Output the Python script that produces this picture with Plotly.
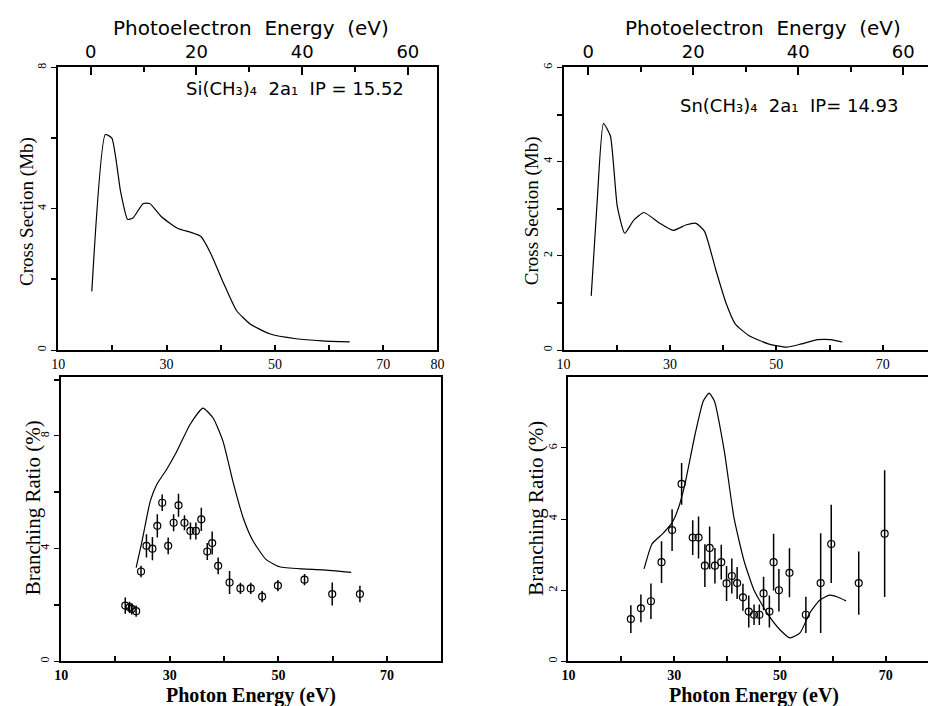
import plotly.graph_objects as go

# ---------------- data ----------------
# Si(CH3)4 cross section (photon energy eV, Mb)
si_cs_E = [16.2, 18.7, 19.9, 21.5, 22.8, 23.8, 25.7, 26.9, 29.0, 32.0, 34.5, 36.3, 38.1, 40.5, 42.9, 45.4, 49.0, 53.9, 58.7, 63.8]
si_cs_V = [1.66, 6.10, 6.00, 4.50, 3.70, 3.74, 4.15, 4.15, 3.78, 3.45, 3.33, 3.22, 2.75, 1.90, 1.12, 0.74, 0.46, 0.32, 0.26, 0.23]

# Si(CH3)4 branching ratio theory curve
si_br_E = [23.8, 24.9, 26.4, 27.6, 29.4, 31.3, 33.7, 36.1, 38.0, 39.8, 41.6, 43.5, 45.3, 47.7, 50.2, 54.4, 58.1, 63.4]
si_br_V = [3.33, 4.28, 5.69, 6.28, 6.81, 7.46, 8.40, 8.99, 8.63, 7.81, 6.40, 5.10, 4.28, 3.62, 3.36, 3.28, 3.25, 3.16]

# Si(CH3)4 branching ratio measurements
si_pt_E = [21.8, 22.6, 23.0, 23.8, 24.7, 25.7, 26.8, 27.7, 28.6, 29.7, 30.7, 31.6, 32.7, 33.8, 34.8, 35.8, 36.9, 37.8, 38.9, 41.0, 43.0, 44.9, 47.0, 49.9, 54.8, 59.9, 65.0]
si_pt_V = [1.98, 1.92, 1.86, 1.78, 3.19, 4.10, 4.00, 4.81, 5.63, 4.10, 4.92, 5.54, 4.92, 4.63, 4.63, 5.04, 3.90, 4.20, 3.39, 2.80, 2.59, 2.59, 2.30, 2.69, 2.90, 2.39, 2.39]
si_pt_err = [0.29, 0.20, 0.20, 0.20, 0.20, 0.41, 0.41, 0.41, 0.29, 0.30, 0.30, 0.41, 0.27, 0.30, 0.30, 0.41, 0.30, 0.41, 0.30, 0.41, 0.20, 0.20, 0.20, 0.20, 0.20, 0.41, 0.29]

# Sn(CH3)4 cross section
sn_cs_E = [15.2, 16.3, 17.5, 18.8, 20.1, 21.5, 23.2, 25.1, 28.1, 30.6, 33.1, 34.9, 36.5, 38.6, 40.5, 42.3, 44.8, 48.5, 51.9, 54.7, 57.8, 60.2, 62.4]
sn_cs_V = [1.15, 3.12, 4.81, 4.55, 3.05, 2.48, 2.76, 2.92, 2.69, 2.54, 2.66, 2.69, 2.52, 1.71, 1.01, 0.55, 0.31, 0.13, 0.06, 0.13, 0.22, 0.22, 0.17]

# Sn(CH3)4 branching ratio theory curve
sn_br_E = [24.3, 25.8, 27.7, 29.6, 30.8, 32.0, 33.9, 35.5, 36.6, 37.6, 39.5, 41.3, 43.2, 45.1, 47.6, 50.0, 51.9, 53.8, 55.6, 57.5, 59.4, 60.9, 62.5]
sn_br_V = [2.60, 3.30, 3.57, 3.90, 4.31, 4.96, 6.35, 7.32, 7.54, 7.32, 5.89, 4.04, 2.83, 2.00, 1.35, 0.89, 0.66, 0.80, 1.35, 1.72, 1.86, 1.81, 1.70]

# Sn(CH3)4 branching ratio measurements
sn_pt_E = [21.8, 23.7, 25.6, 27.6, 29.6, 31.4, 33.5, 34.6, 35.8, 36.7, 37.7, 38.9, 39.9, 40.9, 41.9, 43.0, 44.1, 45.1, 46.1, 46.9, 48.0, 48.8, 49.8, 51.8, 54.9, 57.7, 59.7, 64.9, 69.8]
sn_pt_V = [1.19, 1.49, 1.69, 2.79, 3.69, 4.99, 3.48, 3.48, 2.69, 3.19, 2.69, 2.79, 2.19, 2.40, 2.20, 1.80, 1.40, 1.31, 1.31, 1.91, 1.40, 2.79, 2.00, 2.49, 1.31, 2.20, 3.30, 2.20, 3.59]
sn_pt_err = [0.39, 0.39, 0.50, 0.59, 0.59, 0.59, 0.49, 0.59, 0.60, 0.60, 0.50, 0.49, 0.49, 0.49, 0.45, 0.38, 0.45, 0.29, 0.29, 0.47, 0.45, 0.80, 0.60, 0.69, 0.51, 1.40, 1.10, 0.89, 1.78]

# tick labels
photon_major_left = [10, 30, 50, 70, 80]
photon_major_right = [10, 30, 50, 70]
photon_minor = [20, 40, 60]
pe_major = [0, 20, 40, 60]
pe_minor = [10, 30, 50]

# ---------------- figure ----------------
BLACK = "black"
SERIF = "Liberation Serif"
SANS = "DejaVu Sans"

fig = go.Figure()

line_style = dict(color=BLACK, width=1.2, shape="spline", smoothing=0.5)
marker_style = dict(symbol="circle-open", size=7, color=BLACK, line=dict(width=1.2))

fig.add_trace(go.Scatter(x=si_cs_E, y=si_cs_V, mode="lines", line=line_style, xaxis="x", yaxis="y"))
fig.add_trace(go.Scatter(x=[None], y=[None], mode="lines", xaxis="x2", yaxis="y"))
fig.add_trace(go.Scatter(x=si_br_E, y=si_br_V, mode="lines", line=line_style, xaxis="x3", yaxis="y2"))
fig.add_trace(go.Scatter(x=si_pt_E, y=si_pt_V, mode="markers", marker=marker_style,
                         error_y=dict(type="data", array=si_pt_err, visible=True, width=0, thickness=1.5, color=BLACK),
                         xaxis="x3", yaxis="y2"))

fig.add_trace(go.Scatter(x=sn_cs_E, y=sn_cs_V, mode="lines", line=line_style, xaxis="x4", yaxis="y3"))
fig.add_trace(go.Scatter(x=[None], y=[None], mode="lines", xaxis="x5", yaxis="y3"))
fig.add_trace(go.Scatter(x=sn_br_E, y=sn_br_V, mode="lines", line=line_style, xaxis="x6", yaxis="y4"))
fig.add_trace(go.Scatter(x=sn_pt_E, y=sn_pt_V, mode="markers", marker=marker_style,
                         error_y=dict(type="data", array=sn_pt_err, visible=True, width=0, thickness=1.5, color=BLACK),
                         xaxis="x6", yaxis="y4"))

LT_X = [52 / 935, 437 / 935]
LB_X = [55 / 935, 441 / 935]
RT_X = [565 / 935, 1.0]
RB_X = [570 / 935, 1.0]
TOP_Y = [1 - 348 / 706, 1 - 63 / 706]
BOT_Y = [1 - 662 / 706, 1 - 375 / 706]


def minor_ticks(vals, ticks, ln):
    return dict(tickvals=vals, ticks=ticks, ticklen=ln, tickwidth=1.5, tickcolor=BLACK, showgrid=False)


def photon_axis(domain, anchor, rng, major, bold):
    return dict(domain=domain, anchor=anchor, range=rng, tickmode="array",
                tickvals=major, ticktext=[str(v) for v in major], ticks="inside", ticklen=5,
                tickwidth=1.5, tickcolor=BLACK, showline=True, linewidth=2, linecolor=BLACK,
                mirror=True, showgrid=False, zeroline=False,
                minor=minor_ticks(photon_minor, "inside", 5),
                tickfont=dict(family=SERIF, size=14, color=BLACK,
                              weight="bold" if bold else "normal"))


def pe_axis(overlay, anchor, rng):
    return dict(overlaying=overlay, anchor=anchor, side="top", range=rng, tickmode="array",
                tickvals=pe_major, ticktext=[str(v) for v in pe_major], ticks="inside", ticklen=8,
                tickwidth=1.5, tickcolor=BLACK, showline=True, linewidth=2, linecolor=BLACK,
                showgrid=False, zeroline=False, minor=minor_ticks(pe_minor, "inside", 5),
                tickfont=dict(family=SANS, size=18, color=BLACK))


def y_axis(domain, anchor, rng, major, minor_vals, mirror):
    d = dict(domain=domain, anchor=anchor, range=rng, tickmode="array", tickvals=major,
             ticktext=[str(v) for v in major], ticks="outside", ticklen=5, tickwidth=1.2,
             tickcolor=BLACK, tickangle=-90, showline=True, linewidth=2, linecolor=BLACK,
             mirror=mirror, showgrid=False, zeroline=False,
             tickfont=dict(family=SERIF, size=12, color=BLACK))
    if minor_vals:
        d["minor"] = minor_ticks(minor_vals, "outside", 5)
    return d


fig.update_layout(
    width=935, height=706,
    margin=dict(l=0, r=0, t=0, b=0),
    paper_bgcolor="white", plot_bgcolor="white",
    showlegend=False,
    xaxis=photon_axis(LT_X, "y", [10, 80], photon_major_left, False),
    xaxis2=pe_axis("x", "y", [-6.15, 65.6]),
    xaxis3=photon_axis(LB_X, "y2", [10, 80], photon_major_right, True),
    xaxis4=photon_axis(RT_X, "y3", [10, 78.5], photon_major_right, False),
    xaxis5=pe_axis("x4", "y3", [-4.7, 64.7]),
    xaxis6=photon_axis(RB_X, "y4", [10, 78.0], photon_major_right, True),
    yaxis=y_axis(TOP_Y, "x", [0, 8], [0, 4, 8], [2, 6], True),
    yaxis2=y_axis(BOT_Y, "x3", [0, 10.1], [0, 4, 8], [2, 6, 10], True),
    yaxis3=y_axis(TOP_Y, "x4", [0, 6], [0, 2, 4, 6], [1, 3, 5], False),
    yaxis4=y_axis(BOT_Y, "x6", [0, 8], [0, 2, 4, 6], None, False),
)

ann = []


def paper_text(x, y, text, font, angle=0):
    ann.append(dict(x=x / 935, y=1 - y / 706, xref="paper", yref="paper", text=text,
                    showarrow=False, font=font, textangle=angle, xanchor="center", yanchor="middle"))


title_font = dict(family=SANS, size=20, color=BLACK)
paper_text(248, 23, "Photoelectron  Energy  (eV)", title_font)
paper_text(767, 23, "Photoelectron  Energy  (eV)", title_font)

label_font = dict(family=SANS, size=18, color=BLACK)
paper_text(292, 84, "Si(CH₃)₄  2a₁  IP = 15.52", label_font)
paper_text(794, 101, "Sn(CH₃)₄  2a₁  IP= 14.93", label_font)

ytitle_font = dict(family=SERIF, size=19, color=BLACK)
paper_text(21, 208, "Cross Section (Mb)", ytitle_font, -90)
paper_text(533, 208, "Cross Section (Mb)", ytitle_font, -90)
br_font = dict(family=SERIF, size=21, color=BLACK)
paper_text(26, 507, "Branching Ratio (%)", br_font, -90)
paper_text(537, 507, "Branching Ratio (%)", br_font, -90)

xt_font = dict(family=SERIF, size=20, color=BLACK, weight="bold")
paper_text(248, 696, "Photon Energy (eV)", xt_font)
paper_text(758, 696, "Photon Energy (eV)", xt_font)

fig.update_layout(annotations=ann)

fig.write_html("out.html")
